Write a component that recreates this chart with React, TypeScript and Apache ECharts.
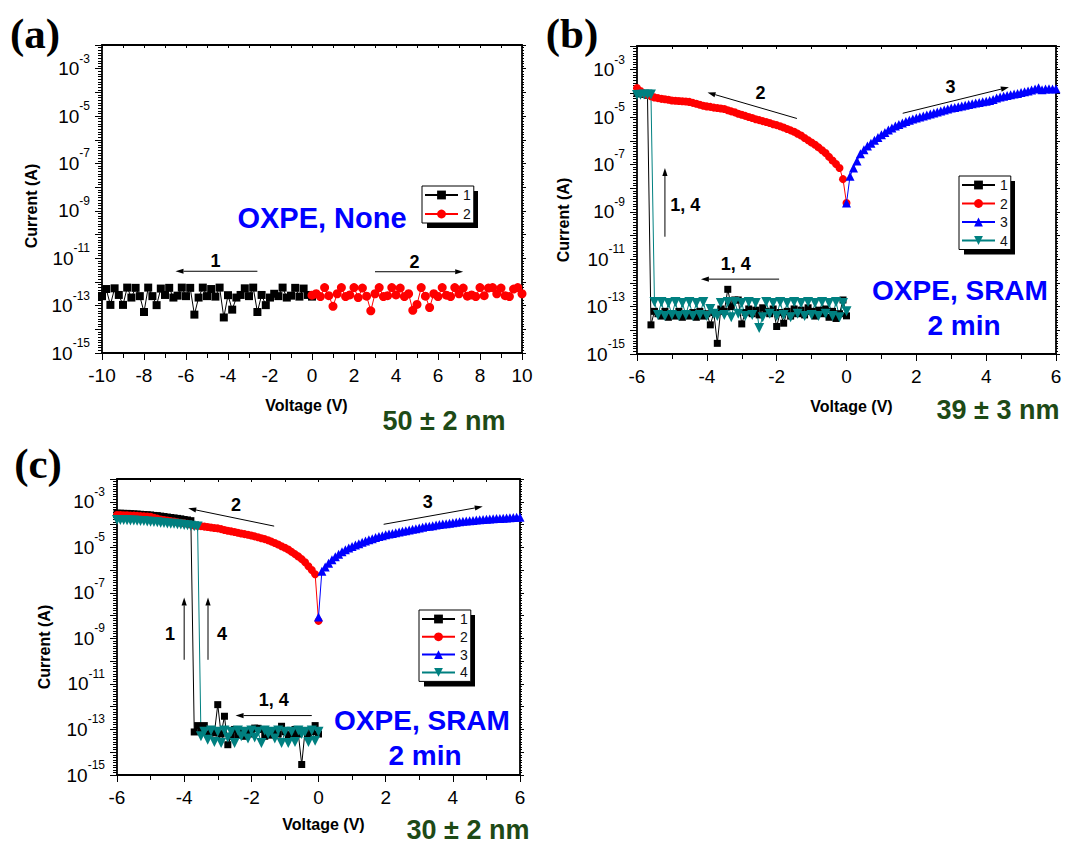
import React, { useEffect, useRef } from 'react';
import * as echarts from 'echarts';

const FONT = '"Liberation Sans", Arial, sans-serif';
const SERIF = '"Liberation Serif", "Times New Roman", serif';

// ---------------- voltage sweeps (V) ----------------
const voltSweepA1 = [0, -0.2, -0.4, -0.6, -0.8, -1, -1.2, -1.4, -1.6, -1.8, -2, -2.2, -2.4, -2.6, -2.8, -3, -3.2, -3.4, -3.6, -3.8, -4, -4.2, -4.4, -4.6, -4.8, -5, -5.2, -5.4, -5.6, -5.8, -6, -6.2, -6.4, -6.6, -6.8, -7, -7.2, -7.4, -7.6, -7.8, -8, -8.2, -8.4, -8.6, -8.8, -9, -9.2, -9.4, -9.6, -9.8, -10];
const voltSweepA2 = [0, 0.2, 0.4, 0.6, 0.8, 1, 1.2, 1.4, 1.6, 1.8, 2, 2.2, 2.4, 2.6, 2.8, 3, 3.2, 3.4, 3.6, 3.8, 4, 4.2, 4.4, 4.6, 4.8, 5, 5.2, 5.4, 5.6, 5.8, 6, 6.2, 6.4, 6.6, 6.8, 7, 7.2, 7.4, 7.6, 7.8, 8, 8.2, 8.4, 8.6, 8.8, 9, 9.2, 9.4, 9.6, 9.8, 10];
const voltSweepNeg = [0, -0.1, -0.2, -0.3, -0.4, -0.5, -0.6, -0.7, -0.8, -0.9, -1, -1.1, -1.2, -1.3, -1.4, -1.5, -1.6, -1.7, -1.8, -1.9, -2, -2.1, -2.2, -2.3, -2.4, -2.5, -2.6, -2.7, -2.8, -2.9, -3, -3.1, -3.2, -3.3, -3.4, -3.5, -3.6, -3.7, -3.8, -3.9, -4, -4.1, -4.2, -4.3, -4.4, -4.5, -4.6, -4.7, -4.8, -4.9, -5, -5.1, -5.2, -5.3, -5.4, -5.5, -5.6, -5.7, -5.8, -5.9, -6];
const voltSweepPos = [0, 0.1, 0.2, 0.3, 0.4, 0.5, 0.6, 0.7, 0.8, 0.9, 1, 1.1, 1.2, 1.3, 1.4, 1.5, 1.6, 1.7, 1.8, 1.9, 2, 2.1, 2.2, 2.3, 2.4, 2.5, 2.6, 2.7, 2.8, 2.9, 3, 3.1, 3.2, 3.3, 3.4, 3.5, 3.6, 3.7, 3.8, 3.9, 4, 4.1, 4.2, 4.3, 4.4, 4.5, 4.6, 4.7, 4.8, 4.9, 5, 5.1, 5.2, 5.3, 5.4, 5.5, 5.6, 5.7, 5.8, 5.9, 6];

// ---------------- log10(current / A) ----------------
// (a) OXPE, None
const logIa1 = [-12.62, -12.55, -12.28, -12.62, -12.25, -12.58, -12.66, -12.24, -12.6, -12.5, -12.66, -12.98, -12.55, -13.27, -12.24, -12.6, -12.27, -12.55, -12.66, -13.17, -12.56, -13.5, -12.24, -12.62, -12.3, -12.6, -12.24, -12.66, -13.38, -12.25, -12.6, -12.24, -12.58, -12.66, -12.25, -12.55, -12.28, -12.98, -12.6, -12.24, -13.27, -12.6, -12.25, -12.66, -12.24, -12.97, -12.55, -12.27, -12.97, -12.3, -12.6];
const logIa2 = [-12.56, -12.5, -12.62, -12.24, -12.58, -13.03, -12.5, -12.24, -12.62, -12.55, -12.24, -12.66, -12.26, -12.6, -13.22, -12.5, -12.24, -12.62, -12.58, -12.24, -12.55, -12.26, -12.62, -12.5, -13.2, -12.95, -12.24, -12.6, -13.08, -12.5, -12.62, -12.24, -12.56, -12.62, -12.24, -12.5, -12.26, -12.6, -12.55, -12.62, -12.24, -12.58, -12.26, -12.24, -12.5, -12.26, -12.58, -12.62, -12.3, -12.24, -12.5];
// (b) OXPE, SRAM 2 min, 39 nm
const logIb1 = [-13.39, -12.72, -13.3, -13.5, -13.2, -13.45, -13.1, -13.3, -13.15, -13.4, -13.2, -13.05, -13.35, -13.15, -13.3, -13.1, -13.4, -13.2, -13.7, -13.25, -13.84, -13.1, -13.3, -13.2, -13.05, -13.35, -13.15, -13.3, -13.1, -13.25, -13.73, -12.72, -12.72, -13.0, -12.27, -13.2, -13.1, -14.55, -13.25, -13.77, -13.3, -13.4, -13.2, -13.45, -13.25, -13.4, -13.3, -13.45, -13.2, -13.4, -13.3, -13.45, -13.2, -13.4, -13.3, -13.2, -13.77, -4.08, -4.04, -4.02, -4.0];
const logIb2 = [-8.63, -7.62, -7.15, -6.98, -6.83, -6.68, -6.52, -6.4, -6.28, -6.17, -6.07, -5.98, -5.88, -5.78, -5.7, -5.62, -5.56, -5.5, -5.44, -5.39, -5.34, -5.3, -5.25, -5.21, -5.17, -5.13, -5.09, -5.04, -5.0, -4.95, -4.9, -4.86, -4.8, -4.76, -4.71, -4.66, -4.64, -4.62, -4.6, -4.57, -4.55, -4.52, -4.48, -4.44, -4.4, -4.36, -4.34, -4.33, -4.32, -4.31, -4.3, -4.27, -4.25, -4.23, -4.2, -4.17, -4.12, -4.06, -4.0, -3.9, -3.77];
const logIb3 = [-8.63, -7.5, -7.15, -6.85, -6.55, -6.38, -6.22, -6.1, -5.98, -5.86, -5.75, -5.65, -5.55, -5.46, -5.38, -5.31, -5.25, -5.19, -5.13, -5.08, -5.04, -5.0, -4.95, -4.91, -4.87, -4.83, -4.79, -4.74, -4.7, -4.66, -4.62, -4.6, -4.56, -4.53, -4.5, -4.47, -4.44, -4.41, -4.38, -4.35, -4.33, -4.3, -4.26, -4.2, -4.15, -4.12, -4.09, -4.06, -4.03, -4.0, -3.96, -3.93, -3.9, -3.86, -3.82, -3.76, -3.85, -3.82, -3.8, -3.82, -3.8];
const logIb4 = [-13.2, -12.85, -13.45, -12.8, -13.4, -12.85, -13.3, -12.8, -13.4, -12.85, -13.35, -12.8, -13.4, -12.85, -13.3, -12.8, -13.45, -12.85, -13.35, -12.8, -13.4, -12.85, -13.3, -12.8, -13.45, -13.9, -12.85, -13.35, -12.8, -13.4, -12.85, -13.3, -12.8, -13.45, -12.8, -13.35, -12.85, -13.4, -13.3, -13.1, -13.4, -12.8, -13.35, -12.85, -13.4, -12.8, -13.35, -12.85, -13.4, -12.8, -13.35, -12.85, -13.4, -12.8, -13.35, -12.8, -4.05, -4.05, -4.05, -4.06, -4.07];
// (c) OXPE, SRAM 2 min, 30 nm
const logIc1 = [-13.2, -12.83, -13.1, -13.25, -13.05, -14.54, -13.2, -13.0, -13.3, -13.23, -13.1, -12.86, -13.2, -13.05, -13.25, -13.1, -13.3, -13.0, -12.95, -12.94, -13.2, -13.05, -13.3, -13.1, -13.25, -13.0, -13.3, -13.67, -12.42, -13.2, -11.91, -13.15, -13.0, -13.2, -12.83, -13.1, -12.83, -13.11, -3.83, -3.8, -3.78, -3.75, -3.73, -3.71, -3.69, -3.67, -3.65, -3.63, -3.61, -3.6, -3.58, -3.57, -3.56, -3.55, -3.54, -3.53, -3.52, -3.51, -3.51, -3.5, -3.5];
const logIc2 = [-8.23, -6.18, -6.0, -5.83, -5.66, -5.52, -5.4, -5.3, -5.2, -5.1, -5.02, -4.95, -4.88, -4.81, -4.75, -4.69, -4.64, -4.6, -4.56, -4.52, -4.48, -4.45, -4.42, -4.39, -4.36, -4.33, -4.3, -4.27, -4.24, -4.2, -4.17, -4.15, -4.13, -4.11, -4.09, -4.07, -4.05, -4.04, -4.0, -3.97, -3.94, -3.92, -3.9, -3.87, -3.85, -3.82, -3.8, -3.78, -3.74, -3.7, -3.66, -3.65, -3.64, -3.63, -3.62, -3.61, -3.6, -3.59, -3.59, -3.58, -3.58];
const logIc3 = [-8.06, -6.05, -5.86, -5.7, -5.55, -5.42, -5.3, -5.2, -5.11, -5.03, -4.96, -4.9, -4.84, -4.78, -4.72, -4.67, -4.62, -4.57, -4.53, -4.49, -4.45, -4.42, -4.39, -4.36, -4.33, -4.3, -4.27, -4.24, -4.21, -4.18, -4.15, -4.12, -4.09, -4.07, -4.05, -4.02, -4.0, -3.98, -3.96, -3.94, -3.92, -3.9, -3.88, -3.86, -3.85, -3.83, -3.82, -3.8, -3.79, -3.78, -3.77, -3.76, -3.75, -3.74, -3.73, -3.72, -3.71, -3.7, -3.69, -3.68, -3.68];
const logIc4 = [-13.1, -13.5, -13.05, -13.55, -13.1, -13.2, -13.05, -13.55, -13.1, -13.6, -13.1, -13.6, -13.05, -13.4, -13.1, -13.2, -13.05, -13.6, -13.1, -13.35, -13.05, -13.4, -13.1, -13.3, -13.05, -13.6, -13.1, -13.35, -13.05, -13.6, -13.1, -13.55, -13.05, -13.45, -13.1, -13.3, -4.09, -4.07, -4.05, -4.03, -4.02, -4.0, -3.99, -3.97, -3.96, -3.95, -3.93, -3.92, -3.9, -3.89, -3.88, -3.87, -3.85, -3.84, -3.83, -3.82, -3.82, -3.81, -3.8, -3.8, -3.8];

// ---------------- axes ----------------
const yExponentTicks = [-15, -13, -11, -9, -7, -5, -3];
const legendNamesA = ['1', '2'];
const legendNamesBC = ['1', '2', '3', '4'];

// ---------------- annotations (data coordinates: V, log10 I) ----------------
const arrowsA = [
  { from: [-2.6, -11.55], to: [-6.5, -11.55] },
  { from: [3.0, -11.57], to: [7.2, -11.57] },
];
const arrowLabelsA = [
  { text: '1', at: [-4.6, -11.1] },
  { text: '2', at: [4.88, -11.15] },
];
const arrowsB = [
  { from: [-1.42, -5.06], to: [-3.98, -3.96] },
  { from: [1.61, -4.84], to: [4.65, -3.74] },
  { from: [-5.2, -10.05], to: [-5.2, -7.15] },
  { from: [-1.93, -11.84], to: [-4.17, -11.84] },
];
const arrowLabelsB = [
  { text: '2', at: [-2.46, -3.98] },
  { text: '3', at: [2.98, -3.72] },
  { text: '1, 4', at: [-4.62, -8.7] },
  { text: '1, 4', at: [-3.17, -11.2] },
];
const arrowsC = [
  { from: [-1.32, -4.07], to: [-3.88, -3.29] },
  { from: [1.94, -3.99], to: [4.89, -3.21] },
  { from: [-4.0, -9.94], to: [-4.0, -7.2] },
  { from: [-3.29, -9.94], to: [-3.29, -7.2] },
  { from: [-0.2, -12.39], to: [-2.47, -12.39] },
];
const arrowLabelsC = [
  { text: '2', at: [-2.46, -3.12] },
  { text: '3', at: [3.25, -3.0] },
  { text: '1', at: [-4.42, -8.82] },
  { text: '4', at: [-2.87, -8.82] },
  { text: '1, 4', at: [-1.33, -11.72] },
];

const C1 = '#000000';
const C2 = '#ff0000';
const C3 = '#0000ff';
const C4 = '#008080';
const GREEN = '#1e4a16';

const pairs = (xs: number[], ys: number[]) => xs.map((x, i) => [x, ys[i]]);

function lineSeries(name: string, axis: number, data: number[][], color: string, symbol: string, size: number, rotate = 0) {
  return {
    type: 'line',
    name,
    xAxisIndex: axis,
    yAxisIndex: axis,
    data,
    symbol,
    symbolSize: size,
    symbolRotate: rotate,
    showSymbol: true,
    showAllSymbol: true,
    silent: true,
    itemStyle: { color },
    lineStyle: { color, width: 1 },
    emphasis: { disabled: true },
  };
}

const blackLine = { color: '#000', width: 1.8 };
const tickStyle = { color: '#000', width: 1 };

function xAxes(g: number, min: number, max: number, nameGap: number, namePad: number[]) {
  return [
    {
      type: 'value', gridIndex: g, position: 'bottom', min, max, interval: 2,
      name: 'Voltage (V)', nameLocation: 'middle', nameGap,
      nameTextStyle: { fontFamily: FONT, fontWeight: 'bold', fontSize: 16, color: '#000', padding: namePad },
      axisLine: { onZero: false, lineStyle: blackLine },
      axisTick: { length: 7, lineStyle: tickStyle },
      minorTick: { show: true, splitNumber: 2, length: 5, lineStyle: tickStyle },
      axisLabel: { margin: 13, fontFamily: FONT, fontSize: 19, color: '#000' },
      splitLine: { show: false },
      minorSplitLine: { show: false },
    },
    {
      type: 'value', gridIndex: g, position: 'top', min, max, interval: 1,
      axisLine: { onZero: false, lineStyle: blackLine },
      axisTick: { inside: true, length: 3, lineStyle: tickStyle },
      axisLabel: { show: false },
      splitLine: { show: false },
    },
  ];
}

function yAxes(g: number, nameGap: number, namePad: number[]) {
  return [
    {
      type: 'value', gridIndex: g, position: 'left', min: -15, max: -2, interval: 1,
      name: 'Current (A)', nameLocation: 'middle', nameGap,
      nameTextStyle: { fontFamily: FONT, fontWeight: 'bold', fontSize: 16, color: '#000', padding: namePad },
      axisLine: { onZero: false, lineStyle: blackLine },
      axisTick: { length: 7, lineStyle: tickStyle },
      minorTick: { show: true, splitNumber: 9, length: 4, lineStyle: tickStyle },
      axisLabel: {
        margin: 12,
        formatter: (v: number) => (yExponentTicks.indexOf(v) >= 0 ? `{a|10}{b|${v}}` : ''),
        rich: {
          a: { fontFamily: FONT, fontSize: 19, lineHeight: 32, color: '#000' },
          b: { fontFamily: FONT, fontSize: 12, lineHeight: 12, verticalAlign: 'top', color: '#000' },
        },
      },
      splitLine: { show: false },
      minorSplitLine: { show: false },
    },
    {
      type: 'value', gridIndex: g, position: 'right', min: -15, max: -2, interval: 1,
      axisLine: { onZero: false, lineStyle: blackLine },
      axisTick: { length: 4, lineStyle: tickStyle },
      minorTick: { show: true, splitNumber: 9, length: 2, lineStyle: tickStyle },
      axisLabel: { show: false },
      splitLine: { show: false },
    },
  ];
}

const legendBase = {
  orient: 'vertical',
  itemWidth: 33,
  itemHeight: 11,
  backgroundColor: '#fff',
  borderColor: '#000',
  borderWidth: 1,
  selectedMode: false,
  textStyle: { fontFamily: FONT, fontSize: 14, lineHeight: 14, color: '#111' },
  z: 10,
};

const legendBoxes = [
  { left: 422, top: 186, n: 2, gap: 5, pad: 2 },
  { left: 959, top: 176, n: 4, gap: 4.5, pad: 2 },
  { left: 419, top: 610, n: 4, gap: 3.8, pad: 2 },
];

function buildOption() {
  const series = [
    lineSeries('1', 0, pairs(voltSweepA1, logIa1), C1, 'rect', 8),
    lineSeries('2', 0, pairs(voltSweepA2, logIa2), C2, 'circle', 9),
    lineSeries('1', 2, pairs(voltSweepNeg, logIb1), C1, 'rect', 7),
    lineSeries('2', 2, pairs(voltSweepNeg, logIb2), C2, 'circle', 8),
    lineSeries('3', 2, pairs(voltSweepPos, logIb3), C3, 'triangle', 9),
    lineSeries('4', 2, pairs(voltSweepNeg, logIb4), C4, 'triangle', 10, 180),
    lineSeries('1', 4, pairs(voltSweepNeg, logIc1), C1, 'rect', 7),
    lineSeries('2', 4, pairs(voltSweepNeg, logIc2), C2, 'circle', 8),
    lineSeries('3', 4, pairs(voltSweepPos, logIc3), C3, 'triangle', 9),
    lineSeries('4', 4, pairs(voltSweepNeg, logIc4), C4, 'triangle', 10, 180),
  ];
  return {
    animation: false,
    backgroundColor: '#fff',
    grid: [
      { left: 102, top: 45, width: 420, height: 308 },
      { left: 637, top: 46, width: 419, height: 308 },
      { left: 117, top: 479, width: 403, height: 296 },
    ],
    xAxis: [
      ...xAxes(0, -10, 10, 44, [0, 11, 0, 0]),
      ...xAxes(1, -6, 6, 44, [0, 0, 0, 10]),
      ...xAxes(2, -6, 6, 41, [0, 0, 0, 10]),
    ],
    yAxis: [
      ...yAxes(0, 63, [0, 14, 0, 0]),
      ...yAxes(1, 66, [0, 40, 0, 0]),
      ...yAxes(2, 65, [0, 40, 0, 0]),
    ],
    legend: legendBoxes.map((b, i) => ({
      ...legendBase,
      left: b.left,
      top: b.top,
      itemGap: b.gap,
      padding: [b.pad, 3, b.pad, 2],
      data: i === 0 ? legendNamesA : legendNamesBC,
    })),
    series,
  };
}

export default function App() {
  const ref = useRef<HTMLDivElement>(null);
  useEffect(() => {
    const chart = echarts.init(ref.current!, null, { renderer: 'svg' });
    chart.setOption(buildOption() as any);

    const toPx = (panel: number, p: number[]) =>
      chart.convertToPixel({ xAxisIndex: panel * 2, yAxisIndex: panel * 2 } as any, p) as number[];

    const graphics: any[] = [];
    const addArrow = (panel: number, a: { from: number[]; to: number[] }) => {
      const s = toPx(panel, a.from);
      const e = toPx(panel, a.to);
      const dx = e[0] - s[0];
      const dy = e[1] - s[1];
      const len = Math.sqrt(dx * dx + dy * dy) || 1;
      const ux = dx / len;
      const uy = dy / len;
      const L = 8;
      const W = 2.6;
      const bx = e[0] - ux * L;
      const by = e[1] - uy * L;
      graphics.push({
        type: 'line', silent: true, z: 20,
        shape: { x1: s[0], y1: s[1], x2: bx, y2: by },
        style: { stroke: '#000', lineWidth: 1 },
      });
      graphics.push({
        type: 'polygon', silent: true, z: 20,
        shape: { points: [[e[0], e[1]], [bx - uy * W, by + ux * W], [bx + uy * W, by - ux * W]] },
        style: { fill: '#000' },
      });
    };
    const addLabel = (panel: number, l: { text: string; at: number[] }) => {
      const p = toPx(panel, l.at);
      graphics.push({
        type: 'text', silent: true, z: 20, x: p[0], y: p[1],
        style: { text: l.text, fill: '#000', fontFamily: FONT, fontWeight: 'bold', fontSize: 18, align: 'center', verticalAlign: 'middle' },
      });
    };
    arrowsA.forEach((a) => addArrow(0, a));
    arrowsB.forEach((a) => addArrow(1, a));
    arrowsC.forEach((a) => addArrow(2, a));
    arrowLabelsA.forEach((l) => addLabel(0, l));
    arrowLabelsB.forEach((l) => addLabel(1, l));
    arrowLabelsC.forEach((l) => addLabel(2, l));

    // legend drop shadows
    legendBoxes.forEach((b) => {
      const h = b.pad * 2 + b.n * 14 + (b.n - 1) * b.gap;
      const w = 2 + 33 + 5 + 8 + 3;
      graphics.push({
        type: 'rect', silent: true, z: 1,
        shape: { x: b.left + 5, y: b.top + 5, width: w, height: h },
        style: { fill: '#000' },
      });
    });

    const txt = (x: number, y: number, text: string, fill: string, fontSize: number, family = FONT) => ({
      type: 'text', silent: true, z: 20, x, y,
      style: { text, fill, fontFamily: family, fontWeight: 'bold', fontSize, align: 'center', verticalAlign: 'middle' },
    });
    graphics.push(txt(35, 33, '(a)', '#000', 43, SERIF));
    graphics.push(txt(572, 33, '(b)', '#000', 43, SERIF));
    graphics.push(txt(38, 463, '(c)', '#000', 43, SERIF));
    graphics.push(txt(322, 218, 'OXPE, None', C3, 29));
    graphics.push(txt(960, 290, 'OXPE, SRAM', C3, 28));
    graphics.push(txt(964, 325, '2 min', C3, 28));
    graphics.push(txt(422, 720, 'OXPE, SRAM', C3, 28));
    graphics.push(txt(425, 755, '2 min', C3, 28));
    graphics.push(txt(444, 421, '50 ± 2 nm', GREEN, 27));
    graphics.push(txt(998, 410, '39 ± 3 nm', GREEN, 27));
    graphics.push(txt(468, 830, '30 ± 2 nm', GREEN, 27));

    chart.setOption({ graphic: graphics });
    return () => chart.dispose();
  }, []);
  return (
    <div
      ref={ref}
      style={{ position: 'absolute', left: 0, top: 0, width: 1065, height: 845, background: '#fff' }}
    />
  );
}
